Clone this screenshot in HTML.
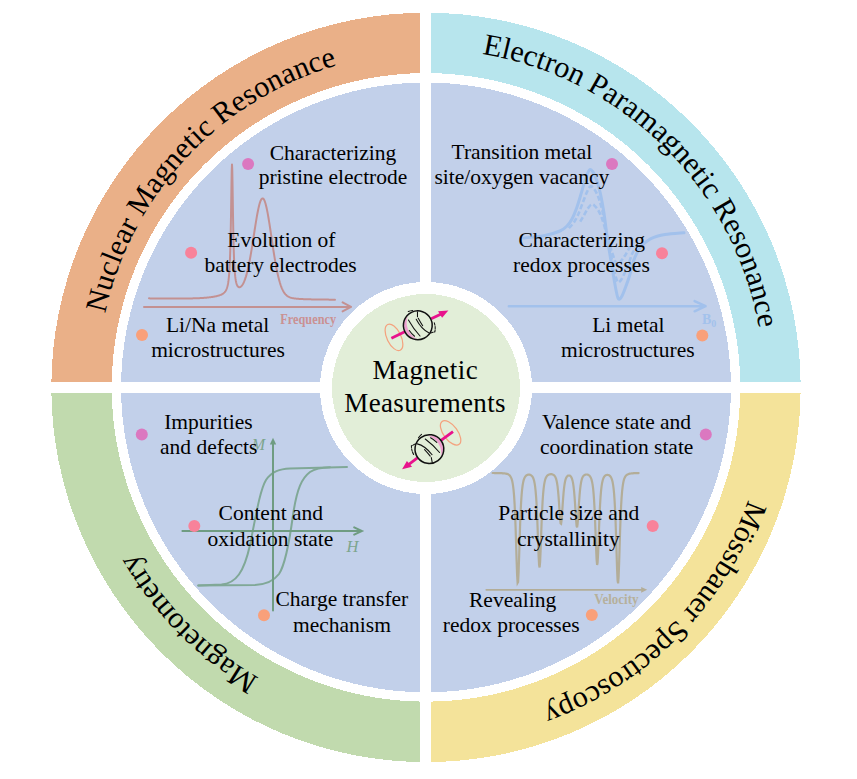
<!DOCTYPE html>
<html><head><meta charset="utf-8"><style>
html,body{margin:0;padding:0;background:#fff;width:857px;height:779px;overflow:hidden}
svg{display:block}
text{font-family:"Liberation Serif",serif}
</style></head><body><svg width="857" height="779" viewBox="0 0 857 779"><path d="M51.30,387.40 A374.7,374.7 0 0 1 426.00,12.70 L426.00,73.10 A314.3,314.3 0 0 0 111.70,387.40 Z" fill="#EAB088" shape-rendering="crispEdges"/><path d="M426.00,12.70 A374.7,374.7 0 0 1 800.70,387.40 L740.30,387.40 A314.3,314.3 0 0 0 426.00,73.10 Z" fill="#B7E5ED" shape-rendering="crispEdges"/><path d="M800.70,387.40 A374.7,374.7 0 0 1 426.00,762.10 L426.00,701.70 A314.3,314.3 0 0 0 740.30,387.40 Z" fill="#F4E39A" shape-rendering="crispEdges"/><path d="M426.00,762.10 A374.7,374.7 0 0 1 51.30,387.40 L111.70,387.40 A314.3,314.3 0 0 0 426.00,701.70 Z" fill="#C1DAAE" shape-rendering="crispEdges"/><circle cx="426" cy="387.4" r="304.9" fill="#C2D0EA" shape-rendering="crispEdges"/><g font-family="Liberation Serif" fill="#000"><path id="p1" d="M761.10,384.05 A331.80,331.80 0 1 1 97.50,384.05 A331.80,331.80 0 1 1 761.10,384.05" fill="none"/><text font-size="30.26" text-anchor="middle"><textPath href="#p1" startOffset="1291.3">Nuclear Magnetic Resonance</textPath></text><path id="p2" d="M764.20,387.40 A338.20,338.20 0 1 1 87.80,387.40 A338.20,338.20 0 1 1 764.20,387.40" fill="none"/><text font-size="30.4" text-anchor="middle"><textPath href="#p2" startOffset="1857.2">Electron Paramagnetic Resonance</textPath></text><path id="p3" d="M767.30,387.40 A341.30,341.30 0 1 1 84.70,387.40 A341.30,341.30 0 1 1 767.30,387.40" fill="none"/><text font-size="30.2" text-anchor="middle"><textPath href="#p3" startOffset="265.7">Mössbauer Spectroscopy</textPath></text><path id="p4" d="M761.00,387.40 A335.00,335.00 0 1 1 91.00,387.40 A335.00,335.00 0 1 1 761.00,387.40" fill="none"/><text font-size="30.3" text-anchor="middle"><textPath href="#p4" startOffset="789.9">Magnetometry</textPath></text></g><g fill="none" stroke="#C39192" stroke-width="2" stroke-linecap="round" stroke-linejoin="round"><path d="M149.00,298.37 L149.50,298.37 L150.00,298.38 L150.50,298.38 L151.00,298.38 L151.50,298.39 L152.00,298.39 L152.50,298.39 L153.00,298.40 L153.50,298.40 L154.00,298.40 L154.50,298.40 L155.00,298.41 L155.50,298.41 L156.00,298.41 L156.50,298.42 L157.00,298.42 L157.50,298.42 L158.00,298.42 L158.50,298.43 L159.00,298.43 L159.50,298.43 L160.00,298.44 L160.50,298.44 L161.00,298.44 L161.50,298.44 L162.00,298.45 L162.50,298.45 L163.00,298.45 L163.50,298.46 L164.00,298.46 L164.50,298.46 L165.00,298.46 L165.50,298.47 L166.00,298.47 L166.50,298.47 L167.00,298.47 L167.50,298.48 L168.00,298.48 L168.50,298.48 L169.00,298.48 L169.50,298.48 L170.00,298.49 L170.50,298.49 L171.00,298.49 L171.50,298.49 L172.00,298.49 L172.50,298.49 L173.00,298.50 L173.50,298.50 L174.00,298.50 L174.50,298.50 L175.00,298.50 L175.50,298.50 L176.00,298.50 L176.50,298.50 L177.00,298.50 L177.50,298.50 L178.00,298.50 L178.50,298.50 L179.00,298.50 L179.50,298.50 L180.00,298.50 L180.50,298.50 L181.00,298.50 L181.50,298.50 L182.00,298.50 L182.50,298.50 L183.00,298.49 L183.50,298.49 L184.00,298.49 L184.50,298.49 L185.00,298.48 L185.50,298.48 L186.00,298.48 L186.50,298.47 L187.00,298.47 L187.50,298.46 L188.00,298.45 L188.50,298.45 L189.00,298.44 L189.50,298.43 L190.00,298.43 L190.50,298.42 L191.00,298.41 L191.50,298.40 L192.00,298.39 L192.50,298.38 L193.00,298.36 L193.50,298.35 L194.00,298.34 L194.50,298.32 L195.00,298.31 L195.50,298.29 L196.00,298.28 L196.50,298.26 L197.00,298.24 L197.50,298.22 L198.00,298.20 L198.50,298.18 L199.00,298.15 L199.50,298.13 L200.00,298.10 L200.50,298.08 L201.00,298.05 L201.50,298.02 L202.00,297.99 L202.50,297.96 L203.00,297.92 L203.50,297.89 L204.00,297.85 L204.50,297.81 L205.00,297.77 L205.50,297.73 L206.00,297.69 L206.50,297.64 L207.00,297.59 L207.50,297.54 L208.00,297.49 L208.50,297.44 L209.00,297.38 L209.50,297.32 L210.00,297.26 L210.50,297.19 L211.00,297.13 L211.50,297.06 L212.00,296.98 L212.50,296.91 L213.00,296.83 L213.50,296.74 L214.00,296.66 L214.50,296.57 L215.00,296.47 L215.50,296.37 L216.00,296.26 L216.50,296.15 L217.00,296.03 L217.50,295.90 L218.00,295.77 L218.50,295.63 L219.00,295.47 L219.50,295.31 L220.00,295.13 L220.50,294.94 L221.00,294.73 L221.50,294.50 L222.00,294.24 L222.50,293.95 L222.75,293.79 L223.00,293.63 L223.25,293.45 L223.50,293.26 L223.75,293.06 L224.00,292.84 L224.25,292.60 L224.50,292.34 L224.75,292.06 L225.00,291.76 L225.25,291.42 L225.50,291.06 L225.75,290.65 L226.00,290.21 L226.25,289.71 L226.50,289.14 L226.75,288.51 L227.00,287.80 L227.25,286.98 L227.50,286.05 L227.75,284.97 L228.00,283.71 L228.25,282.23 L228.50,280.48 L228.75,278.39 L229.00,275.86 L229.25,272.79 L229.50,269.00 L229.75,264.29 L230.00,258.38 L230.25,250.93 L230.50,241.52 L230.75,229.75 L231.00,215.43 L231.25,199.05 L231.50,182.52 L231.75,169.53 L232.00,164.47 L232.25,169.41 L232.50,182.28 L232.75,198.69 L233.00,214.95 L233.25,229.15 L233.50,240.79 L233.75,250.08 L234.00,257.40 L234.25,263.18 L234.50,267.75 L234.75,271.40 L235.00,274.34 L235.25,276.72 L235.50,278.67 L235.75,280.26 L236.00,281.58 L236.25,282.68 L236.50,283.59 L236.75,284.35 L237.00,284.99 L237.25,285.51 L237.50,285.95 L237.75,286.30 L238.00,286.58 L238.25,286.81 L238.50,286.98 L238.75,287.10 L239.00,287.18 L239.25,287.21 L239.50,287.21 L239.75,287.17 L240.00,287.10 L240.25,286.99 L240.50,286.86 L240.75,286.69 L241.00,286.50 L241.25,286.27 L241.50,286.02 L241.75,285.74 L242.00,285.43 L242.50,284.72 L243.00,283.90 L243.50,282.96 L244.00,281.90 L244.50,280.71 L245.00,279.40 L245.50,277.95 L246.00,276.37 L246.50,274.65 L247.00,272.80 L247.50,270.80 L248.00,268.66 L248.50,266.39 L249.00,263.98 L249.50,261.44 L250.00,258.77 L250.50,255.99 L251.00,253.10 L251.50,250.11 L252.00,247.04 L252.50,243.90 L253.00,240.70 L253.50,237.48 L254.00,234.23 L254.50,230.99 L255.00,227.79 L255.50,224.63 L256.00,221.54 L256.50,218.56 L257.00,215.70 L257.50,212.98 L258.00,210.44 L258.50,208.09 L259.00,205.95 L259.50,204.05 L260.00,202.40 L260.50,201.01 L261.00,199.91 L261.50,199.10 L262.00,198.60 L262.50,198.39 L263.00,198.50 L263.50,198.92 L264.00,199.64 L264.50,200.66 L265.00,201.98 L265.50,203.57 L266.00,205.42 L266.50,207.52 L267.00,209.85 L267.50,212.39 L268.00,215.12 L268.50,218.01 L269.00,221.05 L269.50,224.20 L270.00,227.44 L270.50,230.75 L271.00,234.10 L271.50,237.48 L272.00,240.86 L272.50,244.21 L273.00,247.53 L273.50,250.79 L274.00,253.97 L274.50,257.07 L275.00,260.07 L275.50,262.95 L276.00,265.72 L276.50,268.36 L277.00,270.87 L277.50,273.24 L278.00,275.47 L278.50,277.56 L279.00,279.52 L279.50,281.34 L280.00,283.03 L280.50,284.59 L281.00,286.03 L281.50,287.34 L282.00,288.55 L282.50,289.64 L283.00,290.64 L283.50,291.54 L284.00,292.35 L284.50,293.08 L285.00,293.73 L285.50,294.32 L286.00,294.85 L286.50,295.31 L287.00,295.73 L287.50,296.10 L288.00,296.43 L288.50,296.72 L289.00,296.97 L289.50,297.20 L290.00,297.40 L290.50,297.58 L291.00,297.74 L291.50,297.87 L292.00,298.00 L292.50,298.11 L293.00,298.21 L293.50,298.30 L294.00,298.38 L294.50,298.45 L295.00,298.52 L295.50,298.57 L296.00,298.63 L296.50,298.68 L297.00,298.73 L297.50,298.77 L298.00,298.81 L298.50,298.85 L299.00,298.88 L299.50,298.91 L300.00,298.95 L300.50,298.98 L301.00,299.00 L301.50,299.03 L302.00,299.06 L302.50,299.08 L303.00,299.10 L303.50,299.13 L304.00,299.15 L304.50,299.17 L305.00,299.19 L305.50,299.21 L306.00,299.22 L306.50,299.24 L307.00,299.26 L307.50,299.27 L308.00,299.29 L308.50,299.31 L309.00,299.32 L309.50,299.33 L310.00,299.35 L310.50,299.36 L311.00,299.37 L311.50,299.38 L312.00,299.39 L312.50,299.41 L313.00,299.42 L313.50,299.43 L314.00,299.44 L314.50,299.45 L315.00,299.45 L315.50,299.46 L316.00,299.47 L316.50,299.48 L317.00,299.49 L317.50,299.50 L318.00,299.50 L318.50,299.51 L319.00,299.52 L319.50,299.52 L320.00,299.53 L320.50,299.54 L321.00,299.54 L321.50,299.55 L322.00,299.56 L322.50,299.56 L323.00,299.57 L323.50,299.57 L324.00,299.58 L324.50,299.58 L325.00,299.59 L325.50,299.59 L326.00,299.60 L326.50,299.60 L327.00,299.61 L327.50,299.61 L328.00,299.62 L328.50,299.62 L329.00,299.63 L329.50,299.63 L330.00,299.64 L330.50,299.64 L331.00,299.64 L331.50,299.65 L332.00,299.65 L332.50,299.66 L333.00,299.66 L333.50,299.67 L334.00,299.67 L334.50,299.67 L335.00,299.68"/><path d="M144,306.9 L351,306.9 M342.6,302.4 L351,306.9 L342.6,311.4"/></g><text transform="translate(308.2,324) scale(1,1.2)" x="0" y="0" font-family="Liberation Serif" font-weight="bold" font-size="12.3" fill="#CA9193" text-anchor="middle">Frequency</text><g fill="none" stroke="#A2C1EC" stroke-width="3" stroke-linecap="round" stroke-linejoin="round"><path d="M524.0,238.0 C527.5,237.6 539.0,236.7 545.0,235.5 C551.0,234.3 556.3,232.6 560.0,231.0 C563.7,229.4 565.0,228.0 567.0,226.0 C569.0,224.0 570.3,222.2 572.0,219.0 C573.7,215.8 575.5,211.2 577.0,207.0 C578.5,202.8 579.6,198.7 581.0,194.0 C582.4,189.3 584.1,183.0 585.5,179.0 C586.9,175.0 588.1,171.2 589.4,170.0 C590.6,168.8 591.7,170.2 593.0,172.0 C594.3,173.8 595.8,177.3 597.0,181.0 C598.2,184.7 599.4,188.8 600.5,194.0 C601.6,199.2 602.7,205.0 603.8,212.0 C604.9,219.0 606.0,228.8 607.0,236.0 C608.0,243.2 609.0,248.8 610.0,255.0 C611.0,261.2 612.0,267.2 613.0,273.0 C614.0,278.8 615.1,285.7 616.0,290.0 C616.9,294.3 617.5,298.0 618.5,299.0 C619.5,300.0 620.8,298.2 622.0,296.0 C623.2,293.8 624.8,289.3 626.0,286.0 C627.2,282.7 628.2,280.2 629.5,276.0 C630.8,271.8 632.1,265.2 633.5,261.0 C634.9,256.8 636.6,253.6 638.0,251.0 C639.4,248.4 639.8,247.6 642.0,245.5 C644.2,243.4 647.2,240.5 651.0,238.7 C654.8,236.9 659.5,235.6 665.0,234.6 C670.5,233.6 680.8,233.1 684.0,232.8"/><path d="M568.9,228.1 C569.6,227.2 572.0,225.2 573.6,222.9 C575.2,220.6 576.9,217.1 578.4,214.0 C579.8,210.9 580.8,207.9 582.1,204.4 C583.5,200.9 585.1,196.3 586.4,193.3 C587.8,190.3 588.9,187.5 590.1,186.6 C591.3,185.8 592.3,186.8 593.5,188.1 C594.8,189.5 596.2,192.1 597.4,194.8 C598.5,197.5 599.6,200.6 600.7,204.4 C601.8,208.2 602.8,212.5 603.8,217.7 C604.8,222.9 605.9,230.2 606.9,235.5 C607.8,240.8 608.8,245.0 609.7,249.5 C610.7,254.1 611.6,258.5 612.5,262.9 C613.5,267.2 614.5,272.2 615.4,275.4 C616.3,278.6 616.8,281.4 617.8,282.1 C618.7,282.8 619.9,281.5 621.1,279.9 C622.3,278.3 623.7,274.9 624.9,272.5 C626.1,270.0 627.0,268.2 628.2,265.1 C629.4,262.0 630.7,257.1 632.0,254.0 C633.4,250.9 635.0,248.5 636.3,246.6 C637.6,244.7 639.5,243.2 640.1,242.5" stroke-dasharray="5 2.5" stroke-linecap="butt" stroke-width="2.6"/><path d="M580.2,221.6 C580.8,220.6 582.5,217.7 583.8,215.6 C585.0,213.5 586.5,210.5 587.7,208.7 C589.0,206.9 590.1,205.1 591.2,204.6 C592.3,204.0 593.2,204.6 594.3,205.5 C595.4,206.3 596.7,207.9 597.8,209.6 C598.9,211.3 599.9,213.2 600.9,215.6 C601.9,218.0 602.9,220.7 603.8,223.9 C604.8,227.1 605.7,231.6 606.6,234.9 C607.5,238.2 608.4,240.8 609.3,243.7 C610.2,246.5 611.0,249.3 611.9,251.9 C612.8,254.6 613.8,257.8 614.6,259.8 C615.4,261.8 615.9,263.4 616.8,263.9 C617.6,264.4 618.7,263.5 619.8,262.5 C620.9,261.5 622.3,259.5 623.4,257.9 C624.5,256.4 625.3,255.2 626.4,253.3 C627.5,251.4 629.4,247.6 630.0,246.4" stroke-dasharray="5 2.5" stroke-linecap="butt" stroke-width="2.6"/><path d="M508.8,306.2 L705.6,306.2 M694.6,301.1 L705.6,306.2 L694.6,311.3" stroke-width="2.4"/></g><text x="702" y="323.7" font-family="Liberation Serif" font-weight="bold" font-size="14" fill="#A3C2EC">B<tspan font-size="10" dy="3.3">0</tspan></text><g fill="none" stroke="#6F9C82" stroke-width="2" stroke-linecap="round"><path d="M198.3,585.4 L221.5,584.6 C236,583.5 244,572 250,545 C256,515 260,490 266,480 C272,471 280,469 290,468.5 L347,467" stroke="#80A897"/><path d="M198.3,585.4 L255,585 C265,584.5 273,582 279,574 C285,565 289,545 293,515 C297,488 302,478 310,472 C316,468 324,467.5 330,467.3" stroke="#80A897"/><path d="M273,610.5 L273,443"/><path d="M182.4,531 L361.9,531 M354.2,527.4 L361.9,531 L354.2,534.6"/></g><path d="M273,437.8 L276.2,444.5 L269.8,444.5 Z" fill="#6F9C82"/><text x="258.3" y="449.8" font-family="Liberation Serif" font-style="italic" font-size="16" fill="#7DA58E" text-anchor="middle">M</text><text x="352.4" y="551.5" font-family="Liberation Serif" font-style="italic" font-size="16.5" fill="#7DA58E" text-anchor="middle">H</text><g fill="none" stroke="#B3AD98" stroke-width="2.2" stroke-linecap="round"><path d="M492.6,473.0 L493.1,473.0 L493.6,473.0 L494.1,473.0 L494.6,473.1 L495.1,473.1 L495.6,473.1 L496.1,473.1 L496.6,473.1 L497.1,473.1 L497.6,473.1 L498.1,473.1 L498.6,473.1 L499.1,473.1 L499.6,473.1 L500.1,473.1 L500.6,473.2 L501.1,473.2 L501.6,473.2 L502.1,473.2 L502.6,473.3 L503.1,473.3 L503.6,473.3 L504.1,473.4 L504.6,473.4 L505.1,473.5 L505.6,473.6 L506.1,473.7 L506.6,473.8 L507.1,473.9 L507.6,474.1 L508.1,474.3 L508.6,474.6 L509.1,475.0 L509.6,475.4 L510.1,476.0 L510.6,476.7 L511.1,477.7 L511.6,478.9 L512.1,480.6 L512.6,482.9 L513.1,486.1 L513.6,490.3 L514.1,496.2 L514.6,504.1 L515.1,514.6 L515.6,527.9 L516.1,543.8 L516.6,560.4 L517.1,574.7 L517.6,582.8 L518.1,581.9 L518.6,572.3 L519.1,557.2 L519.6,540.5 L520.1,525.1 L520.6,512.3 L521.1,502.4 L521.6,495.0 L522.1,489.5 L522.6,485.5 L523.1,482.6 L523.6,480.4 L524.1,478.8 L524.6,477.7 L525.1,476.8 L525.6,476.1 L526.1,475.6 L526.6,475.3 L527.1,475.0 L527.6,474.8 L528.1,474.7 L528.6,474.7 L529.1,474.7 L529.6,474.7 L530.1,474.8 L530.6,475.0 L531.1,475.3 L531.6,475.7 L532.1,476.2 L532.6,476.9 L533.1,477.8 L533.6,479.1 L534.1,480.8 L534.6,483.2 L535.1,486.4 L535.6,490.8 L536.1,496.8 L536.6,504.8 L537.1,515.3 L537.6,528.1 L538.1,542.3 L538.6,555.7 L539.1,565.1 L539.6,567.5 L540.1,562.1 L540.6,550.6 L541.1,536.5 L541.6,522.7 L542.1,510.8 L542.6,501.3 L543.1,494.1 L543.6,488.8 L544.1,484.9 L544.6,482.1 L545.1,480.0 L545.6,478.5 L546.1,477.3 L546.6,476.5 L547.1,475.8 L547.6,475.3 L548.1,475.0 L548.6,474.7 L549.1,474.5 L549.6,474.4 L550.1,474.3 L550.6,474.2 L551.1,474.2 L551.6,474.2 L552.1,474.3 L552.6,474.5 L553.1,474.7 L553.6,474.9 L554.1,475.3 L554.6,475.9 L555.1,476.6 L555.6,477.6 L556.1,478.9 L556.6,480.7 L557.1,483.3 L557.6,486.7 L558.1,491.3 L558.6,497.2 L559.1,504.3 L559.6,512.0 L560.1,519.0 L560.6,523.4 L561.1,523.8 L561.6,520.1 L562.1,513.5 L562.6,505.8 L563.1,498.6 L563.6,492.4 L564.1,487.6 L564.6,484.0 L565.1,481.3 L565.6,479.4 L566.1,478.0 L566.6,477.1 L567.1,476.4 L567.6,475.9 L568.1,475.6 L568.6,475.5 L569.1,475.5 L569.6,475.6 L570.1,475.8 L570.6,476.3 L571.1,476.9 L571.6,477.8 L572.1,479.1 L572.6,480.9 L573.1,483.4 L573.6,486.8 L574.1,491.4 L574.6,497.4 L575.1,504.7 L575.6,512.8 L576.1,520.5 L576.6,525.9 L577.1,527.3 L577.6,524.1 L578.1,517.6 L578.6,509.5 L579.1,501.6 L579.6,494.8 L580.1,489.4 L580.6,485.3 L581.1,482.2 L581.6,480.0 L582.1,478.4 L582.6,477.2 L583.1,476.4 L583.6,475.7 L584.1,475.3 L584.6,475.0 L585.1,474.7 L585.6,474.6 L586.1,474.5 L586.6,474.5 L587.1,474.5 L587.6,474.6 L588.1,474.8 L588.6,475.1 L589.1,475.4 L589.6,475.8 L590.1,476.5 L590.6,477.3 L591.1,478.4 L591.6,479.9 L592.1,481.9 L592.6,484.6 L593.1,488.4 L593.6,493.6 L594.1,500.6 L594.6,509.8 L595.1,521.3 L595.6,534.8 L596.1,548.5 L596.6,559.6 L597.1,565.0 L597.6,562.6 L598.1,553.5 L598.6,540.4 L599.1,526.6 L599.6,514.1 L600.1,504.0 L600.6,496.2 L601.1,490.3 L601.6,486.1 L602.1,482.9 L602.6,480.7 L603.1,479.0 L603.6,477.8 L604.1,476.9 L604.6,476.2 L605.1,475.7 L605.6,475.4 L606.1,475.1 L606.6,475.0 L607.1,474.9 L607.6,474.9 L608.1,475.0 L608.6,475.1 L609.1,475.3 L609.6,475.6 L610.1,476.1 L610.6,476.7 L611.1,477.5 L611.6,478.6 L612.1,480.1 L612.6,482.1 L613.1,484.9 L613.6,488.6 L614.1,493.7 L614.6,500.8 L615.1,510.1 L615.6,522.3 L616.1,537.3 L616.6,553.9 L617.1,569.6 L617.6,580.6 L618.1,583.4 L618.6,577.0 L619.1,563.6 L619.6,547.1 L620.1,530.9 L620.6,517.0 L621.1,506.0 L621.6,497.6 L622.1,491.4 L622.6,486.8 L623.1,483.5 L623.6,481.0 L624.1,479.2 L624.6,477.9 L625.1,476.9 L625.6,476.1 L626.1,475.5 L626.6,475.0 L627.1,474.7 L627.6,474.4 L628.1,474.2 L628.6,474.0 L629.1,473.8 L629.6,473.7 L630.1,473.6 L630.6,473.5 L631.1,473.5 L631.6,473.4 L632.1,473.3 L632.6,473.3 L633.1,473.3 L633.6,473.2 L634.1,473.2 L634.6,473.2 L635.1,473.2 L635.6,473.1 L636.1,473.1 L636.6,473.1 L637.1,473.1 L637.6,473.1 L638.1,473.1 L638.6,473.1"/><path d="M486.3,589.8 L642,589.8" stroke-width="1.8"/></g><path d="M647.2,589.8 L641.2,586.9 L641.2,592.7 Z" fill="#B3AD98"/><text transform="translate(616.4,603.8) scale(1,1.12)" x="0" y="0" font-family="Liberation Serif" font-weight="bold" font-size="13" fill="#B6B09C" text-anchor="middle">Velocity</text><rect x="420" y="0" width="11" height="779" fill="#fff"/><rect x="0" y="382" width="857" height="11" fill="#fff"/><circle cx="426" cy="388" r="106" fill="#fff" shape-rendering="crispEdges"/><circle cx="426" cy="388" r="94" fill="#E2EED8" shape-rendering="crispEdges"/><g font-family="Liberation Serif" font-size="21.5" fill="#000" text-anchor="middle"><text x="333" y="159.8">Characterizing</text><text x="333" y="184">pristine electrode</text><text x="281.4" y="246.7">Evolution of</text><text x="280.5" y="271.5">battery electrodes</text><text x="217.6" y="332.4">Li/Na metal</text><text x="218" y="357.4">microstructures</text><text x="521.9" y="158.7">Transition metal</text><text x="521.9" y="184.3">site/oxygen vacancy</text><text x="581.8" y="247.3">Characterizing</text><text x="581.4" y="271.8">redox processes</text><text x="628.3" y="332.3">Li metal</text><text x="627.8" y="356.8">microstructures</text><text x="208.4" y="428.8">Impurities</text><text x="208.7" y="453.5">and defects</text><text x="270.8" y="520.1">Content and</text><text x="270.4" y="545.5">oxidation state</text><text x="341.9" y="606.4">Charge transfer</text><text x="341.9" y="631.8">mechanism</text><text x="616.5" y="428.8">Valence state and</text><text x="616.7" y="454.1">coordination state</text><text x="568.8" y="520.1">Particle size and</text><text x="568.4" y="545.5">crystallinity</text><text x="512.6" y="607.1">Revealing</text><text x="511.2" y="631.8">redox processes</text></g><circle cx="248.1" cy="163.9" r="6" fill="#DB78C0"/><circle cx="191.1" cy="252.8" r="6" fill="#F8829A"/><circle cx="142" cy="334.9" r="6" fill="#F9A07A"/><circle cx="612" cy="164" r="6" fill="#DB78C0"/><circle cx="662" cy="253.2" r="6" fill="#F8829A"/><circle cx="702.3" cy="335.5" r="6" fill="#F9A07A"/><circle cx="141.8" cy="434.5" r="6" fill="#DB78C0"/><circle cx="194.3" cy="525.9" r="6" fill="#F8829A"/><circle cx="264" cy="615.2" r="6" fill="#F9A07A"/><circle cx="705.8" cy="434.5" r="6" fill="#DB78C0"/><circle cx="652.7" cy="525.9" r="6" fill="#F8829A"/><circle cx="591.8" cy="614.9" r="6" fill="#F9A07A"/><g font-family="Liberation Serif" font-size="27" fill="#000" text-anchor="middle"><text x="425.3" y="379.1" letter-spacing="0.45">Magnetic</text><text x="425.1" y="411.7" letter-spacing="0.34">Measurements</text></g><g transform="translate(417.8,325.3) rotate(-26)"><ellipse cx="-26.7" cy="0.4" rx="7" ry="14.3" fill="none" stroke="#F4A27E" stroke-width="1.25"/><path d="M-29.4,0 L-14.5,0 M14.9,0 L26,0" stroke="#E8138C" stroke-width="2.8" fill="none"/><path d="M34,0 L24.4,-3.8 L25.2,3.8 Z" fill="#E8138C"/><path d="M-6.59,11.89 A13.6,13.6 0 0 1 -4.87,-12.7 A18,18 0 0 0 -6.59,11.89 Z" fill="#EEA0D0"/><circle cx="0" cy="0" r="14.4" fill="none" stroke="#111" stroke-width="1.5"/><g fill="none" stroke="#111" stroke-width="1.05" stroke-linecap="round"><path d="M1.2,-6.1 C1.4,0 2.8,7 6.6,11.4"/><path d="M3.5,-6.1 Q3.6,-2 4.2,2.5"/><path d="M-6.1,-8.8 Q-5.6,1 -2.7,10.6"/><path d="M-9.9,0.9 Q-9.3,5 -7.7,8.4"/><path d="M5.7,-12.4 L3.5,-7.9"/><path d="M15.9,5 A17,17 0 0 1 12.5,13.3 L8.2,12.6" stroke-dasharray="2.5 1.2"/><path d="M-2.5,-16.6 A16.5,16.5 0 0 1 2,-15.6"/></g></g><g transform="translate(429.4,449.1) rotate(143.4)"><ellipse cx="-26.7" cy="0.4" rx="7" ry="14.3" fill="none" stroke="#F4A27E" stroke-width="1.25"/><path d="M-29.4,0 L-14.5,0 M14.9,0 L26,0" stroke="#E8138C" stroke-width="2.8" fill="none"/><path d="M34,0 L24.4,-3.8 L25.2,3.8 Z" fill="#E8138C"/><path d="M-6.59,11.89 A13.6,13.6 0 0 1 -4.87,-12.7 A18,18 0 0 0 -6.59,11.89 Z" fill="#EEA0D0"/><circle cx="0" cy="0" r="14.4" fill="none" stroke="#111" stroke-width="1.5"/><g fill="none" stroke="#111" stroke-width="1.05" stroke-linecap="round"><path d="M1.2,-6.1 C1.4,0 2.8,7 6.6,11.4"/><path d="M3.5,-6.1 Q3.6,-2 4.2,2.5"/><path d="M-6.1,-8.8 Q-5.6,1 -2.7,10.6"/><path d="M-9.9,0.9 Q-9.3,5 -7.7,8.4"/><path d="M5.7,-12.4 L3.5,-7.9"/><path d="M15.9,5 A17,17 0 0 1 12.5,13.3 L8.2,12.6" stroke-dasharray="2.5 1.2"/><path d="M-2.5,16.6 A16.5,16.5 0 0 0 2,15.6"/></g></g></svg></body></html>
